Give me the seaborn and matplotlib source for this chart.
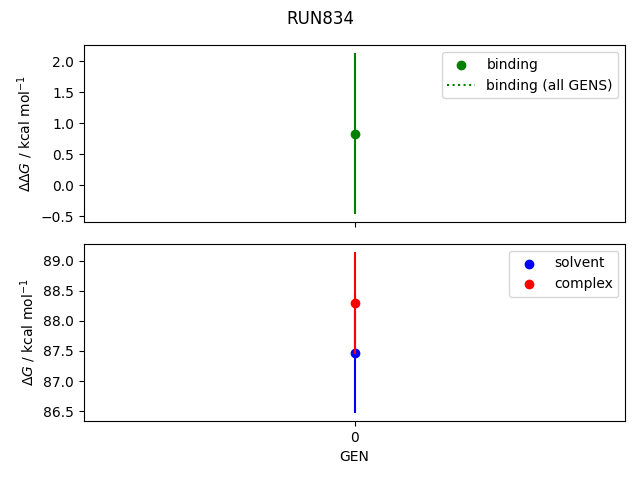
import pandas as pd
import matplotlib
matplotlib.use('Agg')
import matplotlib.pyplot as plt
import seaborn as sns

# --- data ---
gens = [0]
binding = [0.83]
binding_err = [1.30]
solvent = [87.47]
solvent_err = [1.00]
complex_ = [88.30]
complex_err = [0.85]

df = pd.DataFrame({'GEN': gens, 'binding': binding, 'solvent': solvent, 'complex': complex_})

fig, (ax1, ax2) = plt.subplots(2, 1, sharex=True, figsize=(6.4, 4.8), dpi=100)

# top panel: binding free energy
ax1.errorbar(df['GEN'], df['binding'], yerr=binding_err, fmt='none', ecolor='green')
sns.scatterplot(data=df, x='GEN', y='binding', color='green', s=36, linewidth=1,
                edgecolor='green', label='binding', ax=ax1)
ax1.plot([], [], ':', color='green', label='binding (all GENS)')
ax1.set_ylabel(r'$\Delta\Delta G$ / kcal mol$^{-1}$')
ax1.set_xlabel('')
ax1.legend(loc='upper right')

# bottom panel: solvent and complex legs
ax2.errorbar(df['GEN'], df['solvent'], yerr=solvent_err, fmt='none', ecolor='blue')
ax2.errorbar(df['GEN'], df['complex'], yerr=complex_err, fmt='none', ecolor='red')
sns.scatterplot(data=df, x='GEN', y='solvent', color='blue', s=36, linewidth=1,
                edgecolor='blue', label='solvent', ax=ax2)
sns.scatterplot(data=df, x='GEN', y='complex', color='red', s=36, linewidth=1,
                edgecolor='red', label='complex', ax=ax2)
ax2.set_ylabel(r'$\Delta G$ / kcal mol$^{-1}$')
ax2.set_xlabel('GEN')
ax2.set_xticks(gens)
ax2.legend(loc='upper right')

fig.suptitle('RUN834', y=0.98)
fig.subplots_adjust(left=0.131, right=0.977, top=0.906, bottom=0.123, hspace=0.12)
fig.savefig('out.png')
